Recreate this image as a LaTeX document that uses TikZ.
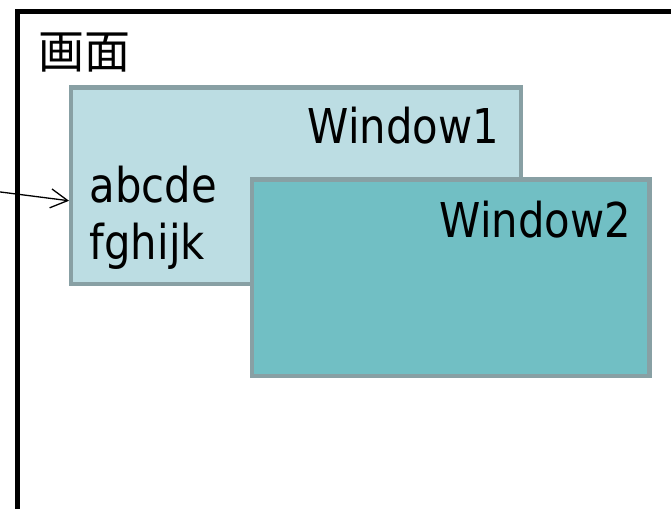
\documentclass[tikz,border=0pt]{standalone}
\usepackage{fontspec}
\setmainfont[FakeStretch=0.87]{DejaVu Sans}
\newfontfamily\cjkfont{Noto Sans CJK JP}
\usetikzlibrary{arrows.meta,calc}

\definecolor{winedge}{RGB}{136,160,164}
\definecolor{winlight}{RGB}{188,221,227}
\definecolor{windark}{RGB}{113,191,196}

\tikzset{
  screenbox/.style={draw=black, line width=5pt, fill=none, anchor=north west,
    inner sep=0pt, outer sep=0pt, minimum width=700pt, minimum height=560pt},
  winbox/.style={draw=winedge, line width=4.5pt, anchor=north west,
    inner sep=0pt, outer sep=0pt},
  label/.style={font=\fontsize{48}{57}\selectfont, inner sep=0pt, text=black},
  pointer/.style={-{Straight Barb[length=17pt,width=19pt]}, line width=1.3pt, black},
}

\begin{document}
\begin{tikzpicture}[x=1pt,y=-1pt]
  \useasboundingbox (0,0) rectangle (671,508);
  \clip (0,0) rectangle (671,508);
  \fill[white] (0,0) rectangle (671,508);

  % the screen and its caption
  \node[screenbox] (screen) at (17.5,11.5) {};
  \node[font=\cjkfont\fontsize{46}{46}\selectfont, inner sep=0pt] (title) at (84,52.5) {画面};

  % two overlapping windows
  \node[winbox, fill=winlight, minimum width=450pt, minimum height=196.5pt] (w1) at (71,87.5) {};
  \node[label, anchor=base east] (w1name) at (499,143) {Window1};
  \node[label, anchor=base west, align=left] (content) at (89.5,259) {abcde\\fghijk};

  \node[winbox, fill=windark, minimum width=397.5pt, minimum height=196.5pt] (w2) at (252,179.5) {};
  \node[label, anchor=base east] (w2name) at (631,237) {Window2};

  % pointer into the first window
  \coordinate (src) at (-5,191.3);
  \draw[pointer] (src) -- ($(w1.west)+(-2,15)$);
\end{tikzpicture}
\end{document}
